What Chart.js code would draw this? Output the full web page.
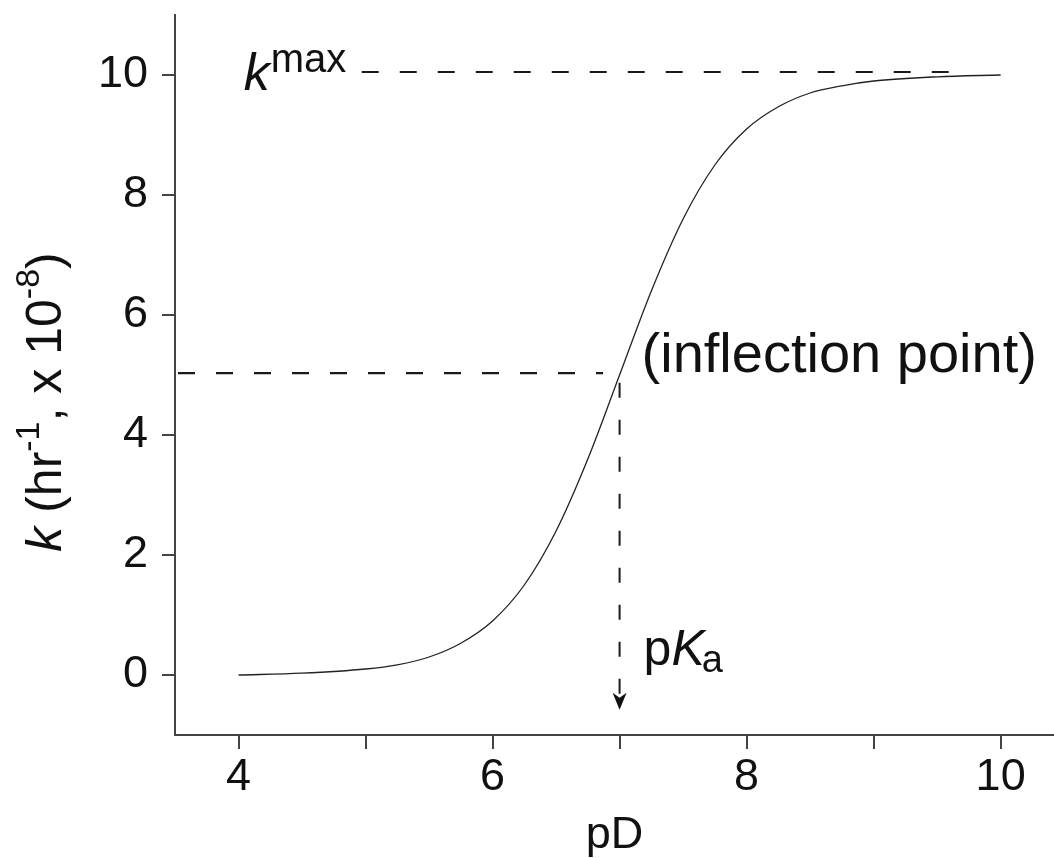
<!DOCTYPE html>
<html>
<head>
<meta charset="utf-8">
<title>k vs pD</title>
<script src="https://cdn.jsdelivr.net/npm/chart.js@4.4.1/dist/chart.umd.min.js"></script>
<style>
  body { margin: 0; background: #fff; }
  #wrap { width: 1054px; height: 858px; }
</style>
</head>
<body>
<div id="wrap"><canvas id="mycanvas"></canvas></div>
<script>
// curve
var pD    = [4, 4.5, 5, 5.25, 5.5, 5.75, 6, 6.25, 6.5, 6.75, 7, 7.25, 7.5, 7.75, 8, 8.25, 8.5, 8.75, 9, 9.5, 10];
var kRate = [0.0, 0.03, 0.1, 0.17, 0.3, 0.53, 0.9, 1.5, 2.4, 3.6, 5.0, 6.4, 7.6, 8.5, 9.1, 9.47, 9.7, 9.82, 9.9, 9.97, 10.0];

var xTicks  = [4, 5, 6, 7, 8, 9, 10];
var xLabels = ['4', '', '6', '', '8', '', '10'];
var yTicks  = [0, 2, 4, 6, 8, 10];

// guide lines
var kmaxLevel  = 10.05;
var kmaxFromTo = [4.97, 9.65];
var halfLevel  = 5.03;
var halfFromTo = [3.5, 6.87];
var pKa        = 7;
var pKaFromTo  = [4.87, -0.58];

var FONT = 'Liberation Sans, Arial, sans-serif';

function dashLine(ctx, x1, y1, x2, y2) {
    ctx.beginPath();
    ctx.moveTo(x1, y1);
    ctx.lineTo(x2, y2);
    ctx.stroke();
}

var notes = {
    id: 'notes',
    afterDatasetsDraw: function(chart) {
        var ctx = chart.ctx;
        var xs = chart.scales.x, ys = chart.scales.y;
        ctx.save();
        ctx.strokeStyle = '#1a1a1a';
        ctx.fillStyle = '#111';

        // kmax and half guides
        ctx.lineWidth = 2.2;
        ctx.setLineDash([17, 21]);
        var yk = ys.getPixelForValue(kmaxLevel);
        dashLine(ctx, xs.getPixelForValue(kmaxFromTo[0]), yk, xs.getPixelForValue(kmaxFromTo[1]), yk);
        var yh = ys.getPixelForValue(halfLevel);
        dashLine(ctx, xs.getPixelForValue(halfFromTo[0]) + 3, yh, xs.getPixelForValue(halfFromTo[1]), yh);

        // pKa drop line + arrow
        var xp = xs.getPixelForValue(pKa);
        var tip = ys.getPixelForValue(pKaFromTo[1]);
        ctx.lineWidth = 2;
        ctx.setLineDash([15, 22]);
        dashLine(ctx, xp, ys.getPixelForValue(pKaFromTo[0]), xp, tip - 16);
        ctx.setLineDash([]);
        ctx.beginPath();
        ctx.moveTo(xp, tip);
        ctx.lineTo(xp - 7, tip - 17);
        ctx.lineTo(xp, tip - 12);
        ctx.lineTo(xp + 7, tip - 17);
        ctx.closePath();
        ctx.fill();

        ctx.textBaseline = 'alphabetic';
        ctx.textAlign = 'left';

        // k^max
        var kx = xs.getPixelForValue(kmaxFromTo[0]) - 118;
        ctx.font = 'italic 52px ' + FONT;
        ctx.fillText('k', kx, yk + 18);
        var kw = ctx.measureText('k').width;
        ctx.font = '40px ' + FONT;
        ctx.fillText('max', kx + kw + 1, yk);

        // (inflection point)
        ctx.font = '56px ' + FONT;
        ctx.fillText('(inflection point)', xp + 22, ys.getPixelForValue(halfLevel) - 1);

        // pKa
        var px = xp + 24, pb = ys.getPixelForValue(0) - 10;
        ctx.font = '50px ' + FONT;
        ctx.fillText('p', px, pb);
        px += ctx.measureText('p').width;
        ctx.font = 'italic 50px ' + FONT;
        ctx.fillText('K', px, pb);
        px += ctx.measureText('K').width - 3;
        ctx.font = '38px ' + FONT;
        ctx.fillText('a', px, pb + 7);

        // y axis title, rotated
        var parts = [
            { t: 'k', f: 'italic 50px ', r: 0 },
            { t: ' (hr', f: '50px ', r: 0 },
            { t: '-1', f: '34px ', r: 22 },
            { t: ', x 10', f: '50px ', r: 0 },
            { t: '-8', f: '34px ', r: 22 },
            { t: ')', f: '50px ', r: 0 }
        ];
        var total = 0;
        parts.forEach(function(p) {
            ctx.font = p.f + FONT;
            p.w = ctx.measureText(p.t).width;
            total += p.w;
        });
        ctx.translate(61, 402);
        ctx.rotate(-Math.PI / 2);
        var pos = -total / 2;
        parts.forEach(function(p) {
            ctx.font = p.f + FONT;
            ctx.fillText(p.t, pos, -p.r);
            pos += p.w;
        });
        ctx.restore();
    }
};

var ctx = document.getElementById('mycanvas');

var chart = new Chart(ctx, {
    type: 'scatter',
    data: {
        datasets: [{
            label: 'k',
            data: pD.map(function(v, i) { return { x: v, y: kRate[i] }; }),
            showLine: true,
            borderColor: '#222',
            borderWidth: 1.3,
            pointRadius: 0,
            cubicInterpolationMode: 'monotone',
            fill: false
        }]
    },
    options: {
        responsive: true,
        maintainAspectRatio: false,
        animation: false,
        layout: { padding: { top: 15, right: 0, left: 0, bottom: 0 } },
        plugins: {
            legend: { display: false },
            tooltip: { enabled: false }
        },
        scales: {
            x: {
                type: 'linear',
                min: 3.5,
                max: 10.42,
                afterBuildTicks: function(scale) {
                    scale.ticks = xTicks.map(function(v) { return { value: v }; });
                },
                afterFit: function(scale) {
                    scale.height = 123;
                    scale.paddingLeft = 0;
                    scale.paddingRight = 0;
                },
                ticks: {
                    color: '#111',
                    font: { family: FONT, size: 45 },
                    padding: 2,
                    maxRotation: 0,
                    autoSkip: false,
                    callback: function(v, i) { return xLabels[i]; }
                },
                grid: { drawOnChartArea: false, drawTicks: true, tickLength: 14, color: '#444', lineWidth: 2 },
                border: { display: true, color: '#444', width: 2 },
                title: {
                    display: true,
                    text: 'pD',
                    color: '#111',
                    font: { family: FONT, size: 45, lineHeight: 1 },
                    padding: { top: 0, bottom: 0 }
                }
            },
            y: {
                type: 'linear',
                min: -1,
                max: 11,
                afterBuildTicks: function(scale) {
                    scale.ticks = yTicks.map(function(v) { return { value: v }; });
                },
                afterFit: function(scale) {
                    scale.width = 175;
                    scale.paddingTop = 0;
                    scale.paddingBottom = 0;
                },
                ticks: {
                    color: '#111',
                    font: { family: FONT, size: 45 },
                    padding: 14
                },
                grid: { drawOnChartArea: false, drawTicks: true, tickLength: 13, color: '#444', lineWidth: 2 },
                border: { display: true, color: '#444', width: 2 }
            }
        }
    },
    plugins: [notes]
});
</script>
</body>
</html>
